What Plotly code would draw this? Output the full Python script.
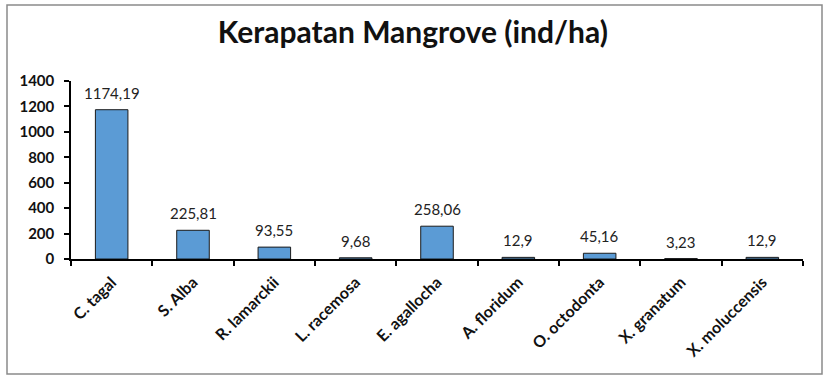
import plotly.graph_objects as go

species = ["C. tagal", "S. Alba", "R. lamarckii", "L. racemosa", "E. agallocha",
           "A. floridum", "O. octodonta", "X. granatum", "X. moluccensis"]
density = [1174.19, 225.81, 93.55, 9.68, 258.06, 12.9, 45.16, 3.23, 12.9]
y_ticks = [0, 200, 400, 600, 800, 1000, 1200, 1400]

labels = [str(v).replace(".", ",") for v in density]

fig = go.Figure(go.Bar(
    x=species, y=density,
    marker=dict(color="#5B9BD5", line=dict(color="#1a1a1a", width=1)),
    width=0.4, cliponaxis=False,
))

for sp, v, lab in zip(species, density, labels):
    fig.add_annotation(x=sp, y=v, text=lab, showarrow=False, yanchor="middle",
                       yshift=17, font=dict(family="Lato", size=15, color="#222"))

fig.update_layout(
    width=829, height=384,
    margin=dict(l=71, r=26, t=81, b=125),
    paper_bgcolor="white", plot_bgcolor="white",
    showlegend=False,
    title=dict(text="<b>Kerapatan Mangrove (ind/ha)</b>", x=0.498, xanchor="center",
               y=0.915, yanchor="middle",
               font=dict(family="Lato", size=30, color="#111")),
    font=dict(family="Lato"),
    shapes=[dict(type="rect", xref="paper", yref="paper",
                 x0=-64/732, x1=(822-71)/732, y0=-(374-259)/178, y1=(259-5)/178,
                 line=dict(color="#8a8a8a", width=1.5), fillcolor="rgba(0,0,0,0)")],
)

fig.update_xaxes(
    showline=True, linecolor="black", linewidth=1.5,
    ticks="outside", tickson="boundaries", ticklen=5, tickcolor="black", tickwidth=1.5,
    tickangle=-45, tickfont=dict(family="Lato", size=16, color="#111", weight="bold"),
    ticklabelstandoff=6,
    showgrid=False, automargin=False,
)
fig.update_yaxes(
    range=[0, 1400], tickvals=y_ticks, ticktext=[str(t) for t in y_ticks],
    showline=True, linecolor="black", linewidth=1.5,
    ticks="outside", ticklen=5, tickcolor="black", tickwidth=1.5,
    tickfont=dict(family="Lato", size=15, color="#111", weight="bold"),
    ticklabelstandoff=7,
    showgrid=False, zeroline=False, automargin=False,
)

fig.write_html("out.html", config={"displayModeBar": False},
               post_script="document.body.style.margin='0';")
